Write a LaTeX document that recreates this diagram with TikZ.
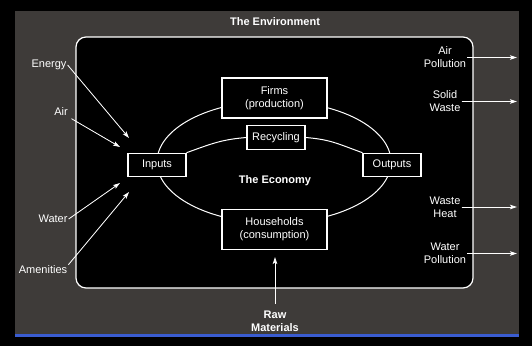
\documentclass[tikz,border=0pt]{standalone}
\usepackage{fontspec}
\setmainfont{Liberation Sans}
\usepackage{xcolor}
\usepackage{tikz}
\usetikzlibrary{arrows.meta,positioning}
\definecolor{envgray}{RGB}{62,59,57}
\definecolor{rulebl}{RGB}{58,92,208}

\begin{document}
\begin{tikzpicture}[x=1pt, y=-1pt,
  box/.style={draw=white, fill=black, line width=1.1pt, text=white,
              align=center, font=\fontsize{11}{13}\selectfont, inner sep=2pt},
  bigbox/.style={box, minimum width=105pt, minimum height=40pt},
  smallbox/.style={box, minimum width=58pt, minimum height=23.5pt},
  lbl/.style={text=white, align=center, font=\fontsize{11}{13}\selectfont, inner sep=1pt},
  ttl/.style={lbl, font=\fontsize{11}{13}\selectfont\bfseries},
  econ/.style={draw=white, line width=1pt},
  arr/.style={-{Stealth[length=7pt,width=4.5pt,inset=1.5pt]}, draw=white, fill=white,
              line width=0.8pt},
]
% frame
\fill[black] (0,0) rectangle (532,346);
\fill[envgray] (15,11) rectangle (519,334);
\fill[rulebl] (15,334) rectangle (519,336.5);
\draw[draw=white, fill=black, line width=1.2pt, rounded corners=10pt] (76,37) rectangle (473,288);
\draw[econ] (274,162) ellipse [x radius=117pt, y radius=61pt];

% economy
\node[ttl] (env) at (275,22) {The Environment};
\node[ttl] (economy) at (275,181) {The Economy};
\node[bigbox] (firms) at (274.5,98) {Firms\\(production)};
\node[bigbox] (house) at (274.5,229.5) {Households\\(consumption)};
\node[smallbox] (recyc) at (276,137.5) {Recycling};
\node[smallbox] (inputs) at (157,165) {Inputs};
\node[smallbox] (outputs) at (392,165) {Outputs};

% resources in
\node[lbl] (energy) at (49,65) {Energy};
\node[lbl] (air) at (61,112) {Air};
\node[lbl] (water) at (53,219) {Water};
\node[lbl] (amen) at (43,270) {Amenities};
\node[ttl] (raw) at (275,321.5) {Raw\\Materials};

% wastes out
\node[lbl] (airpol) at (445,57.5) {Air\\Pollution};
\node[lbl] (solid) at (445,101.5) {Solid\\Waste};
\node[lbl] (heat) at (445,207) {Waste\\Heat};
\node[lbl] (watpol) at (445,253.5) {Water\\Pollution};

\coordinate (energytip) at (129,138);
\coordinate (airtip) at (120,147);
\coordinate (watertip) at (120,183);
\coordinate (amentip) at (129,192);
\coordinate (rawtip) at (275,257);
\coordinate (airpolend) at (517,57.5);
\coordinate (solidend) at (517,101.5);
\coordinate (heatend) at (517,207);
\coordinate (watpolend) at (517,253.5);

\draw[econ] (inputs.north east) .. controls +(25,-9) and +(-25,2) .. (recyc.west);
\draw[econ] (recyc.east) .. controls +(25,2) and +(-25,-9) .. (outputs.north west);

\draw[arr] (energy.east) -- (energytip);
\draw[arr, shorten <=3pt] (air.south east) -- (airtip);
\draw[arr] (water.east) -- (watertip);
\draw[arr] (amen.north east) -- (amentip);
\draw[arr, shorten <=6pt] (raw.north) -- (rawtip);
\draw[arr] (airpol.east) -- (airpolend);
\draw[arr] (solid.east) -- (solidend);
\draw[arr] (heat.east) -- (heatend);
\draw[arr] (watpol.east) -- (watpolend);
\end{tikzpicture}
\end{document}
